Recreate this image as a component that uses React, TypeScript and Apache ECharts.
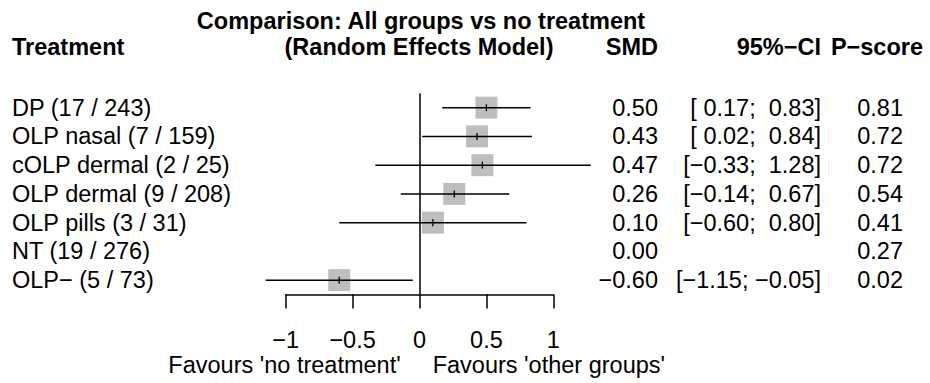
import React, { useEffect, useRef } from "react";
import * as echarts from "echarts";

const FONT = '"Liberation Sans", Arial, Helvetica, sans-serif';
const FS = 23.5;
const INK = "#000000";
const SQUARE = "#bebebe";

// Network meta-analysis results per treatment (vs. no treatment)
const treatments = [
  "DP (17 / 243)",
  "OLP nasal (7 / 159)",
  "cOLP dermal (2 / 25)",
  "OLP dermal (9 / 208)",
  "OLP pills (3 / 31)",
  "NT (19 / 276)",
  "OLP\u2212 (5 / 73)",
];
const smd = [0.5, 0.43, 0.47, 0.26, 0.1, 0.0, -0.6];
const ciLower: (number | null)[] = [0.17, 0.02, -0.33, -0.14, -0.6, null, -1.15];
const ciUpper: (number | null)[] = [0.83, 0.84, 1.28, 0.67, 0.8, null, -0.05];
const pScore = [0.81, 0.72, 0.72, 0.54, 0.41, 0.27, 0.02];

const xTicks = [-1, -0.5, 0, 0.5, 1];
const titleText = "Comparison: All groups vs no treatment";
const subtitleText = "(Random Effects Model)";
const colHeaders = ["Treatment", "SMD", "95%\u2212CI", "P\u2212score"];
const favourLeft = "Favours 'no treatment'";
const favourRight = "Favours 'other groups'";

const minus = (s: string) => s.replace("-", "\u2212");
const fmt2 = (v: number) => minus(v.toFixed(2));
const pad5 = (s: string) => (s.length < 5 ? "\u00A0".repeat(5 - s.length) + s : s);
const ciText = (lo: number | null, hi: number | null) =>
  lo == null || hi == null ? "" : `[${pad5(fmt2(lo))};\u00A0${pad5(fmt2(hi))}]`;

// Right-hand column anchors (right edges, px)
const COL_SMD = 658;
const COL_CI = 821;
const COL_P = 903;

function textEl(
  x: number,
  y: number,
  text: string,
  align: string,
  bold = false
) {
  return {
    type: "text",
    x,
    y,
    silent: true,
    style: {
      text,
      fill: INK,
      fontSize: FS,
      fontFamily: FONT,
      fontWeight: bold ? "bold" : "normal",
      align,
      verticalAlign: "middle",
      textAlign: align,
      textVerticalAlign: "middle",
    },
  };
}

export default function App() {
  const ref = useRef<HTMLDivElement>(null);

  useEffect(() => {
    document.body.style.margin = "0";
    if (!ref.current) return;
    const chart = echarts.init(ref.current, undefined, { renderer: "svg" });

    const gridLeft = 285.7;
    const gridRight = 930 - 553.3;

    const option: any = {
      animation: false,
      backgroundColor: "#ffffff",
      grid: { left: gridLeft, right: gridRight, top: 93.3, height: 201.2 },
      xAxis: {
        type: "value",
        min: xTicks[0],
        max: xTicks[xTicks.length - 1],
        interval: 0.5,
        axisLine: { show: true, onZero: false, lineStyle: { color: INK, width: 1.5 } },
        axisTick: { show: true, length: 14, lineStyle: { color: INK, width: 1.5 } },
        splitLine: { show: false },
        axisLabel: {
          margin: 33,
          color: INK,
          fontSize: FS,
          fontFamily: FONT,
          formatter: (v: number) => (xTicks.includes(v) ? minus(String(v)) : ""),
        },
      },
      yAxis: {
        type: "category",
        data: treatments,
        inverse: true,
        axisLine: { show: false },
        axisTick: { show: false },
        splitLine: { show: false },
        axisLabel: {
          interval: 0,
          align: "left",
          margin: gridLeft - 12,
          color: INK,
          fontSize: FS,
          fontFamily: FONT,
        },
      },
      series: [
        {
          type: "custom",
          clip: false,
          encode: { x: 1, y: 0 },
          data: treatments.map((_, i) => [i, smd[i]]),
          renderItem: (params: any, api: any) => {
            const i = params.dataIndex;
            const [cx, cy] = api.coord([api.value(1), api.value(0)]);
            const children: any[] = [];
            const lo = ciLower[i];
            const hi = ciUpper[i];
            if (lo != null && hi != null) {
              const x1 = api.coord([lo, i])[0];
              const x2 = api.coord([hi, i])[0];
              children.push({
                type: "rect",
                shape: { x: cx - 11, y: cy - 11, width: 22, height: 22 },
                style: { fill: SQUARE },
              });
              children.push({
                type: "line",
                shape: { x1, y1: cy, x2, y2: cy },
                style: { stroke: INK, lineWidth: 1.5 },
              });
              children.push({
                type: "line",
                shape: { x1: cx, y1: cy - 3.5, x2: cx, y2: cy + 3.5 },
                style: { stroke: INK, lineWidth: 1.3 },
              });
            }
            children.push(textEl(COL_SMD, cy, fmt2(smd[i]), "right"));
            children.push(textEl(COL_CI, cy, ciText(lo, hi), "right"));
            children.push(textEl(COL_P, cy, pScore[i].toFixed(2), "right"));
            return { type: "group", children };
          },
        },
        {
          type: "line",
          data: [[0, 0]],
          symbol: "none",
          lineStyle: { opacity: 0 },
          silent: true,
          markLine: {
            silent: true,
            symbol: ["none", "none"],
            label: { show: false },
            lineStyle: { color: INK, width: 1.5, type: "solid" },
            data: [{ xAxis: 0 }],
          },
        },
      ],
      graphic: [
        textEl(421, 21, titleText, "center", true),
        textEl(12, 47, colHeaders[0], "left", true),
        textEl(419, 47, subtitleText, "center", true),
        textEl(658, 47, colHeaders[1], "right", true),
        textEl(821, 47, colHeaders[2], "right", true),
        textEl(923, 47, colHeaders[3], "right", true),
        textEl(400.7, 365, favourLeft, "right"),
        textEl(432.7, 365, favourRight, "left"),
      ],
    };

    chart.setOption(option);
    return () => chart.dispose();
  }, []);

  return <div ref={ref} style={{ width: 930, height: 383 }} />;
}
